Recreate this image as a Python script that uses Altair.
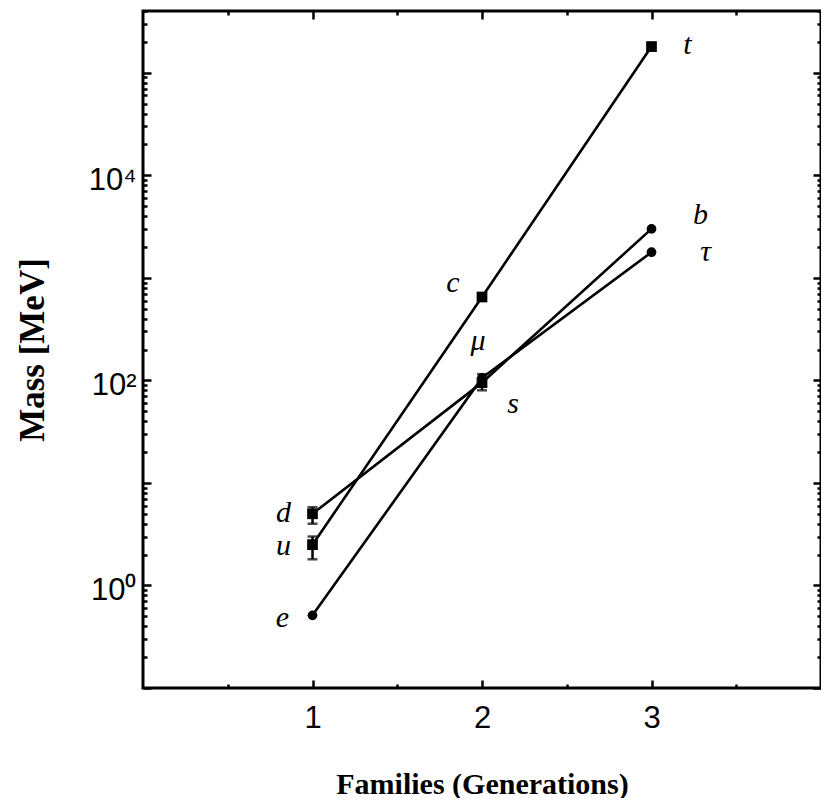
import altair as alt
import pandas as pd

# ---- data ----
generations = [1, 2, 3]
up_names = ["u", "c", "t"]
up_mass = [2.5, 650.0, 180000.0]
down_names = ["d", "s", "b"]
down_mass = [5.0, 95.0, 3000.0]
lepton_names = ["e", "μ", "τ"]
lepton_mass = [0.511, 105.7, 1777.0]

err_names = ["d", "u", "s"]
err_gen = [1, 1, 2]
err_low = [4.0, 1.8, 80.0]
err_high = [5.8, 3.0, 115.0]

square_names = ["u", "d", "s", "c", "t"]

y_major = [0.1, 1, 10, 100, 1000, 10000, 100000]
y_minor = [round(k * 10.0 ** n, 6) for n in range(-1, 6) for k in range(2, 10) if k * 10.0 ** n <= 400000]
x_major = [1, 2, 3]
x_minor = [0.5, 1.5, 2.5, 3.5]

rows = []
for fam, names, masses in [("up", up_names, up_mass), ("down", down_names, down_mass),
                           ("lepton", lepton_names, lepton_mass)]:
    for g, n, m in zip(generations, names, masses):
        rows.append({"family": fam, "name": n, "gen": g, "mass": m,
                     "square": n in square_names})
df = pd.DataFrame(rows)
err = pd.DataFrame({"name": err_names, "gen": err_gen, "lo": err_low, "hi": err_high})

xs = alt.Scale(domain=[0, 4], nice=False, zero=False)
ys = alt.Scale(type="log", domain=[0.1, 400000], nice=False)

TICKW = 2.5
common = dict(domain=False, grid=False, tickColor="black", tickWidth=TICKW, labelColor="black")

def ax(orient, values, size, labels=False, **kw):
    d = dict(common)
    d.update(dict(orient=orient, values=values, tickSize=size, offset=-size,
                  labels=labels, title=None))
    d.update(kw)
    return alt.Axis(**d)

y_label_expr = ("datum.value == 1 ? '10⁰' : datum.value == 100 ? '10²' : "
                "datum.value == 10000 ? '10⁴' : ''")

ax_left_major = ax("left", y_major, 8, labels=True, labelExpr=y_label_expr,
                   labelFont="Liberation Sans", labelFontSize=31, labelPadding=7,
                   labelBaseline="middle", labelOffset=5, labelOverlap=False, labelFlush=False,
                   title="Mass [MeV]", titleFont="Liberation Serif", titleFontSize=35,
                   titleFontWeight="bold", titleColor="black", titlePadding=38)
ax_left_minor = ax("left", y_minor, 4)
ax_right_major = ax("right", y_major, 8)
ax_right_minor = ax("right", y_minor, 4)
ax_bottom_major = ax("bottom", x_major, 8, labels=True, format="d",
                     labelFont="Liberation Sans", labelFontSize=31, labelPadding=15,
                     labelOverlap=False, labelFlush=False,
                     title="Families (Generations)", titleFont="Liberation Serif",
                     titleFontSize=30, titleFontWeight="bold", titleColor="black",
                     titlePadding=36)
ax_bottom_minor = ax("bottom", x_minor, 4)
ax_top_major = ax("top", x_major, 8)
ax_top_minor = ax("top", x_minor, 4)

lines = alt.Chart(df).mark_line(color="black", strokeWidth=2.6).encode(
    x=alt.X("gen:Q", scale=xs, axis=ax_bottom_major),
    y=alt.Y("mass:Q", scale=ys, axis=ax_left_major),
    detail="family:N",
)

bars = alt.Chart(err).mark_rule(color="black", strokeWidth=2.5).encode(
    x=alt.X("gen:Q", scale=xs, axis=ax_bottom_minor),
    y=alt.Y("lo:Q", scale=ys, axis=ax_left_minor),
    y2="hi:Q",
)
caps_lo = alt.Chart(err).mark_tick(color="black", orient="horizontal", size=10, thickness=2.5).encode(
    x=alt.X("gen:Q", scale=xs, axis=ax_top_major),
    y=alt.Y("lo:Q", scale=ys, axis=ax_right_major),
)
caps_hi = alt.Chart(err).mark_tick(color="black", orient="horizontal", size=10, thickness=2.5).encode(
    x=alt.X("gen:Q", scale=xs, axis=ax_top_minor),
    y=alt.Y("hi:Q", scale=ys, axis=ax_right_minor),
)

squares = alt.Chart(df).transform_filter("datum.square").mark_point(
    shape="square", filled=True, color="black", size=115, opacity=1).encode(
    x=alt.X("gen:Q", scale=xs, axis=None),
    y=alt.Y("mass:Q", scale=ys, axis=None),
)
circles = alt.Chart(df).transform_filter("!datum.square").mark_point(
    shape="circle", filled=True, color="black", size=95, opacity=1).encode(
    x=alt.X("gen:Q", scale=xs, axis=None),
    y=alt.Y("mass:Q", scale=ys, axis=None),
)

label_offsets = {
    "t": (36, -2), "b": (49, -14), "τ": (54, 0),
    "c": (-29, -14), "μ": (-4, -37), "s": (31, 21),
    "d": (-29, -1), "u": (-29, 1), "e": (-30, 3),
}
texts = []
for name, (dx, dy) in label_offsets.items():
    texts.append(
        alt.Chart(df).transform_filter(alt.datum.name == name).mark_text(
            font="Liberation Serif", fontStyle="italic", fontSize=30, color="black",
            dx=dx, dy=dy, align="center", baseline="middle").encode(
            x=alt.X("gen:Q", scale=xs, axis=None),
            y=alt.Y("mass:Q", scale=ys, axis=None),
            text="name:N",
        )
    )

chart = alt.layer(lines, bars, caps_lo, caps_hi, squares, circles, *texts).resolve_axis(
    x="independent", y="independent"
).properties(
    width=678, height=677,
    autosize=alt.AutoSizeParams(type="none"),
    padding={"left": 135, "top": 3, "right": 0, "bottom": 110},
    background="white",
).configure_view(stroke="black", strokeWidth=3)

chart.save("out.html", embed_options={"renderer": "svg", "actions": False})
